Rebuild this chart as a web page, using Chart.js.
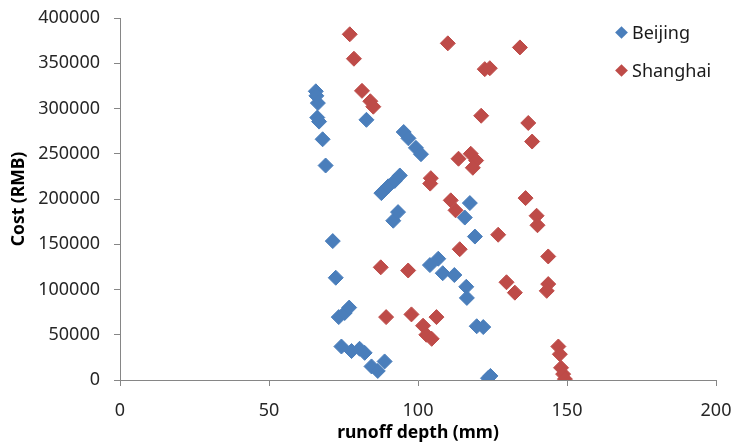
<!DOCTYPE html>
<html>
<head>
<meta charset="utf-8">
<script src="https://cdn.jsdelivr.net/npm/chart.js@4.4.0/dist/chart.umd.min.js"></script>
<style>
    html, body { margin: 0; padding: 0; background: #fff; }
    #wrap { position: relative; width: 734px; height: 447px; }
    #legend { position: absolute; left: 615px; top: 13px; font-family: "Noto Sans"; font-size: 18px; color: #1a1a1a; }
    .legend-item { display: flex; align-items: center; height: 38px; }
    .legend-marker { width: 9px; height: 9px; margin-left: 2px; margin-right: 6px; transform: rotate(45deg); }
</style>
</head>
<body>
<div id="wrap">
    <canvas id="costChart" width="734" height="447"></canvas>
    <div id="legend"></div>
</div>
<script>
// Chart data (runoff depth in mm, cost in RMB)
const seriesNames = ['Beijing', 'Shanghai'];
const seriesColors = ['#4A7EBB', '#BE4B48'];

const beijingDepth = [65.7, 65.9, 66.4, 66.2, 66.8, 68.0, 69.0, 82.7, 71.4, 72.4, 73.4, 75.4, 76.9, 74.3, 77.7,
    80.4, 82.1, 84.4, 86.5, 88.8, 87.7, 90.0, 92.2, 93.9, 91.7, 93.3, 95.2, 96.8, 99.3, 101.0, 104.0, 106.8,
    108.3, 112.2, 116.2, 116.4, 117.4, 115.7, 119.1, 119.7, 121.9, 123.5, 124.3];
const beijingCost = [319000, 314000, 306000, 290000, 285500, 266000, 237000, 287500, 153500, 113000, 69500,
    74000, 80000, 37000, 32000, 34500, 30000, 15000, 10000, 20500, 206500, 214000, 220000, 226000, 176000,
    185500, 274000, 267000, 256500, 249500, 127000, 134000, 118000, 116000, 103000, 90700, 195500, 179500,
    158500, 59400, 58500, 2000, 4500];

const shanghaiDepth = [77.1, 78.5, 81.2, 84.0, 85.0, 110.0, 122.4, 124.1, 121.2, 113.6, 117.7, 119.5, 118.4,
    104.3, 104.1, 134.2, 137.0, 138.3, 136.1, 139.8, 140.1, 126.9, 143.7, 129.7, 132.5, 143.7, 143.2, 147.1,
    147.6, 148.0, 148.7, 149.3, 111.0, 112.6, 114.0, 87.5, 96.7, 89.3, 97.8, 106.2, 101.7, 102.8, 104.6];
const shanghaiCost = [382000, 355000, 319500, 308000, 302000, 372000, 343500, 344500, 292000, 244500, 250000,
    242500, 234500, 223000, 217000, 367500, 284000, 263500, 201000, 181500, 171000, 160500, 136500, 108000,
    96500, 106000, 98500, 37000, 28500, 13500, 6500, 1000, 198500, 187500, 144500, 124500, 121000, 69500,
    72500, 69500, 60000, 50000, 45500];

const xTicks = { min: 0, max: 200, step: 50 };
const yTicks = { min: 0, max: 400000, step: 50000 };

const tickFont = { family: 'Noto Sans', size: 18 };
const titleFont = { family: 'Noto Sans', size: 17.5, weight: 'bold' };
const axisGray = '#868686';

function toPoints(xs, ys) {
    return xs.map((x, i) => ({ x: x, y: ys[i] }));
}

function makeDataset(label, xs, ys, color) {
    return {
        label: label,
        data: toPoints(xs, ys),
        backgroundColor: color,
        borderColor: color,
        borderWidth: 1,
        pointStyle: 'rectRot',
        pointRadius: 7.5,
        pointHoverRadius: 7.5
    };
}

const ctx = document.getElementById('costChart').getContext('2d');
const costChart = new Chart(ctx, {
    type: 'scatter',
    data: {
        datasets: [
            makeDataset(seriesNames[0], beijingDepth, beijingCost, seriesColors[0]),
            makeDataset(seriesNames[1], shanghaiDepth, shanghaiCost, seriesColors[1])
        ]
    },
    options: {
        responsive: false,
        animation: false,
        layout: { padding: { top: 18, right: 18, left: 0, bottom: 0 } },
        plugins: {
            legend: { display: false },
            tooltip: { enabled: false }
        },
        scales: {
            x: {
                type: 'linear',
                min: xTicks.min,
                max: xTicks.max,
                ticks: { stepSize: xTicks.step, font: tickFont, color: '#262626', padding: 14, callback: v => String(v) },
                grid: { drawOnChartArea: false, drawTicks: true, tickLength: 6, color: axisGray },
                border: { color: axisGray, width: 1 },
                title: { display: true, text: 'runoff depth (mm)', font: titleFont, color: '#000', padding: { bottom: 3 } },
                afterFit: scale => {
                    scale.height = 67;
                    scale.paddingLeft = 0;
                    scale.paddingRight = 0;
                }
            },
            y: {
                type: 'linear',
                min: yTicks.min,
                max: yTicks.max,
                ticks: { stepSize: yTicks.step, font: tickFont, color: '#262626', padding: 14, callback: v => String(v) },
                grid: { drawOnChartArea: false, drawTicks: true, tickLength: 6, color: axisGray },
                border: { color: axisGray, width: 1 },
                title: { display: true, text: 'Cost (RMB)', font: titleFont, color: '#000', padding: { top: 9 } },
                afterFit: scale => {
                    scale.width = 120;
                    scale.paddingTop = 0;
                    scale.paddingBottom = 0;
                }
            }
        }
    }
});

// HTML legend built from the chart's datasets
const legendBox = document.getElementById('legend');
legendBox.innerHTML = costChart.data.datasets.map(ds => `
    <div class="legend-item">
        <span class="legend-marker" style="background:${ds.backgroundColor}"></span>
        <span>${ds.label}</span>
    </div>
`).join('');
</script>
</body>
</html>
